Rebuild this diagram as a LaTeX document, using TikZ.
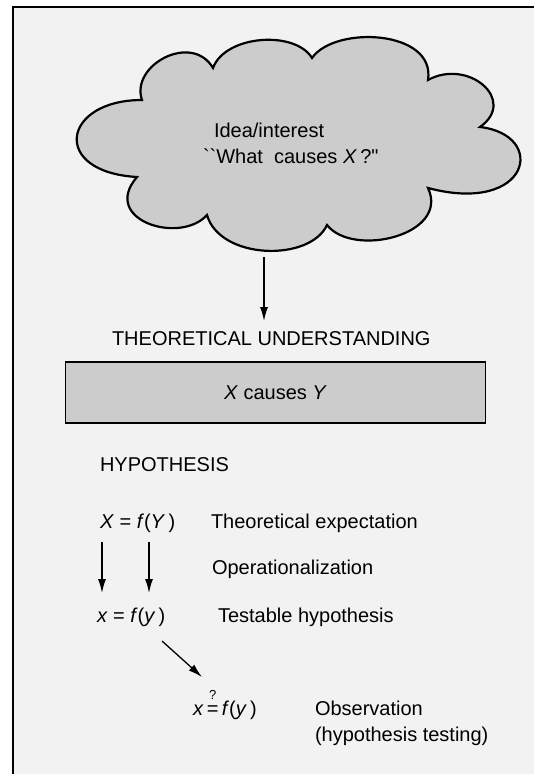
\documentclass[tikz,border=0pt]{standalone}
\usepackage{fontspec}
\setmainfont{Liberation Sans}[Ligatures=TeXOff]
\usetikzlibrary{arrows.meta}
\tikzset{
  txt/.style={inner sep=0pt, outer sep=0pt, font=\fontsize{20}{24}\selectfont, anchor=base west},
  shade/.style={fill=black!20},
  conn/.style={line width=1.3pt, -{Latex[length=14pt,width=8pt]}},
}
\newcommand{\qeq}{\rlap{\raisebox{0.78em}{\hbox to 0.584em{\hss\fontsize{13}{13}\selectfont ?\hss}}}=}
\begin{document}
\begin{tikzpicture}[x=1pt,y=-1pt]
\useasboundingbox (0,0) rectangle (534,774);
% background panel
\fill[black!5] (13,7) rectangle (534,774);
\draw[line width=2.6pt] (13,774) -- (13,7) -- (534,7);
% cloud
\draw[shade, line width=2.2pt]
  (142,100) .. controls (130,65) and (192,32) .. (213,68)
  .. controls (225,35) and (295,30) .. (312,58)
  .. controls (335,25) and (436,30) .. (428,80)
  .. controls (468,58) and (518,100) .. (480,127)
  .. controls (548,135) and (530,215) .. (428,188)
  .. controls (450,235) and (353,258) .. (327,225)
  .. controls (310,262) and (220,260) .. (207,215)
  .. controls (180,245) and (100,220) .. (137,177)
  .. controls (50,172) and (62,100) .. (142,100) -- cycle;
\node[txt] (idea) at (214,137) {Idea/interest};
\node[txt] (what) at (203,163) {\symbol{96}\symbol{96}What\ \ causes \textit{X}\,?\symbol{34}};
\coordinate (cloudbot) at (264,257);
\coordinate (theotop) at (264,321);
\draw[conn] (cloudbot) -- (theotop);
% theoretical understanding
\node[txt] (theo) at (112,345) {THEORETICAL UNDERSTANDING};
\node[shade, draw, line width=1.8pt, minimum width=420pt, minimum height=61pt, inner sep=0pt, font=\fontsize{20}{24}\selectfont] (rect) at (275.5,392.5) {\textit{X} causes \textit{Y}};
% hypothesis
\node[txt] (hyp) at (100,471) {HYPOTHESIS};
\node[txt] (XY) at (100,528) {\textit{X} = \textit{f}(\textit{Y}\,)};
\node[txt] (te) at (211,528) {Theoretical expectation};
\coordinate (a1s) at (102,542); \coordinate (a1e) at (102,593);
\coordinate (a2s) at (149,542); \coordinate (a2e) at (149,593);
\draw[conn] (a1s) -- (a1e);
\draw[conn] (a2s) -- (a2e);
\node[txt] (op) at (212,574) {Operationalization};
\node[txt] (xy) at (97,622) {\textit{x} = \textit{f}(\textit{y}\,)};
\node[txt] (th) at (218,622) {Testable hypothesis};
\coordinate (a3s) at (162,641); \coordinate (a3e) at (202,677);
\draw[conn] (a3s) -- (a3e);
\node[txt] (obs) at (193,715) {\textit{x}\,\qeq\,\textit{f}(\textit{y}\,)};
\node[txt] (o1) at (315,715) {Observation};
\node[txt] (o2) at (315,741) {(hypothesis testing)};
\end{tikzpicture}
\end{document}
